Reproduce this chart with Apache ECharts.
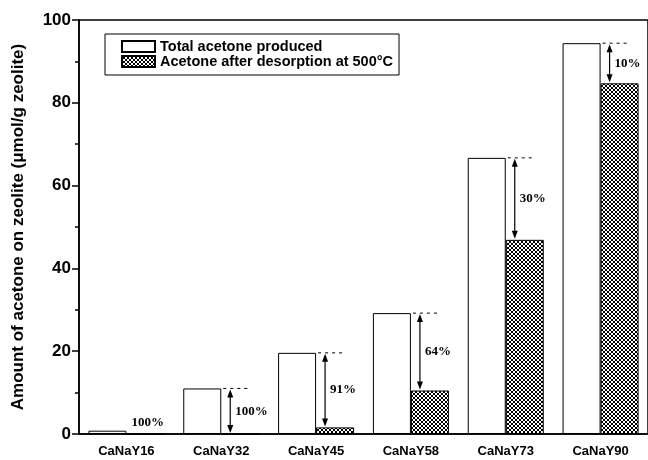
<!DOCTYPE html>
<html><head><meta charset="utf-8">
<script src="https://cdn.jsdelivr.net/npm/echarts@6/dist/echarts.min.js"></script>
<style>html,body{margin:0;padding:0;background:#fff}#c{width:648px;height:460px}</style>
</head><body><div id="c"></div>
<script>
const categories = ['CaNaY16','CaNaY32','CaNaY45','CaNaY58','CaNaY73','CaNaY90'];
const totalProduced = [0.8, 11.0, 19.6, 29.2, 66.7, 94.4];
const afterDesorption = [0, 0, 1.6, 10.5, 46.9, 84.7];
const pctLabels = ['100%','100%','91%','64%','30%','10%'];
const yTicks = [0, 20, 40, 60, 80, 100];

const cv = document.createElement('canvas');
cv.width = 4; cv.height = 4;
const cx = cv.getContext('2d');
cx.fillStyle = '#fff'; cx.fillRect(0,0,4,4);
cx.fillStyle = '#000';
[[0,0],[1,1],[2,2],[3,3],[3,0],[2,1],[1,2],[0,3]].forEach(p=>cx.fillRect(p[0],p[1],1,1));
const hatch = {image: cv, repeat: 'repeat'};

const annData = categories.map((c,i)=>[i, totalProduced[i], afterDesorption[i]]);

const chart = echarts.init(document.getElementById('c'), null, {renderer:'canvas'});
chart.setOption({
  animation: false,
  backgroundColor: '#fff',
  grid: {left: 79, top: 20, right: -3, bottom: 26, show: true, borderColor: '#000', borderWidth: 1.5, backgroundColor: 'transparent'},
  legend: {
    left: 105, top: 34, orient: 'vertical', icon: 'rect',
    itemWidth: 33, itemHeight: 11, itemGap: 0,
    padding: [5, 6, 6, 16],
    borderColor: '#000', borderWidth: 1,
    textStyle: {fontFamily: 'Liberation Sans', fontWeight: 'bold', fontSize: 14.5, lineHeight: 15, color: '#000'},
    data: ['Total acetone produced', 'Acetone after desorption at 500°C']
  },
  xAxis: [{
    type: 'category', data: categories,
    axisLine: {lineStyle: {color: '#000', width: 1.5}},
    axisTick: {alignWithLabel: true, length: 7, lineStyle: {color: '#000', width: 1.5}},
    axisLabel: {fontFamily: 'Liberation Sans', fontWeight: 'bold', fontSize: 13, color: '#000', margin: 11}
  }, {
    type: 'category', data: categories, position: 'bottom',
    axisLine: {show: false},
    axisTick: {alignWithLabel: false, length: 4, lineStyle: {color: '#000', width: 1.5}},
    axisLabel: {show: false}
  }],
  yAxis: {
    type: 'value', min: 0, max: 100, interval: 20,
    name: 'Amount of acetone on zeolite (\u03bcmol/g zeolite)',
    nameLocation: 'middle', nameGap: 52,
    nameTextStyle: {fontFamily: 'Liberation Sans', fontWeight: 'bold', fontSize: 17, color: '#000'},
    axisLine: {show: true, lineStyle: {color: '#000', width: 1.5}},
    axisTick: {show: true, length: 7, lineStyle: {color: '#000', width: 1.5}},
    minorTick: {show: true, splitNumber: 2, length: 4, lineStyle: {color: '#000', width: 1.5}},
    splitLine: {show: false},
    axisLabel: {fontFamily: 'Liberation Sans', fontWeight: 'bold', fontSize: 17, color: '#000', margin: 8,
      formatter: v => yTicks.includes(v) ? String(v) : ''}
  },
  series: [{
    name: 'Total acetone produced', type: 'bar', data: totalProduced,
    barWidth: 38, barGap: '0%',
    itemStyle: {color: '#fff', borderColor: '#000', borderWidth: 1}
  }, {
    name: 'Acetone after desorption at 500°C', type: 'bar', data: afterDesorption,
    barWidth: 38, barGap: '0%',
    itemStyle: {color: hatch, borderColor: '#000', borderWidth: 1}
  }, {
    type: 'custom', data: annData, z: 10, silent: true,
    renderItem: function(params, api) {
      const i = api.value(0), tot = api.value(1), des = api.value(2);
      const pT = api.coord([i, tot]);
      const pB = api.coord([i, des]);
      const x = pT[0], yT = pT[1], yB = pB[1];
      const label = pctLabels[params.dataIndex];
      const font = 'bold 13px "Liberation Serif"';
      if (tot - des < 3) {
        return {type: 'text', style: {x: x + 5, y: yT - 8, text: label, font: font, fill: '#000', textAlign: 'left', textVerticalAlign: 'middle'}};
      }
      const ax = x + 9;
      return {type: 'group', children: [
        {type: 'line', shape: {x1: x + 2, y1: yT, x2: x + 27, y2: yT}, style: {stroke: '#000', lineWidth: 1, lineDash: [3, 4]}},
        {type: 'line', shape: {x1: ax, y1: yT + 6, x2: ax, y2: yB - 6}, style: {stroke: '#000', lineWidth: 1.2}},
        {type: 'polygon', shape: {points: [[ax, yT + 1], [ax - 3, yT + 9], [ax + 3, yT + 9]]}, style: {fill: '#000'}},
        {type: 'polygon', shape: {points: [[ax, yB - 1], [ax - 3, yB - 9], [ax + 3, yB - 9]]}, style: {fill: '#000'}},
        {type: 'text', style: {x: ax + 5, y: (yT + yB) / 2, text: label, font: font, fill: '#000', textAlign: 'left', textVerticalAlign: 'middle'}}
      ]};
    }
  }]
});
</script></body></html>
